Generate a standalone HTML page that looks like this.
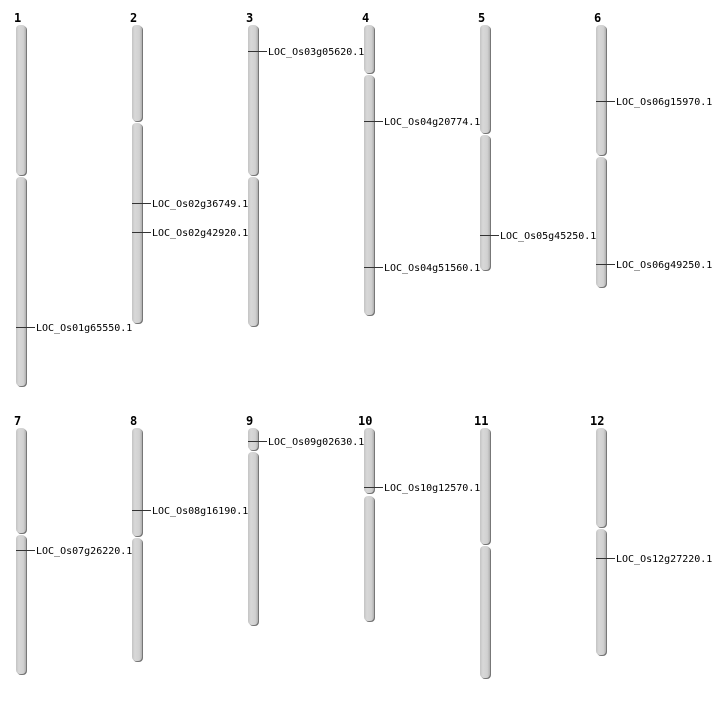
<!DOCTYPE html>
<html><head><style>html,body{margin:0;padding:0;background:#fff;}</style></head>
<body>
<svg width="712" height="700" xmlns="http://www.w3.org/2000/svg" font-family="'DejaVu Sans Mono', monospace">
<defs>
<linearGradient id="g" x1="0" x2="1" y1="0" y2="0">
<stop offset="0" stop-color="#c4c4c4"/><stop offset="0.3" stop-color="#d8d8d8"/><stop offset="0.75" stop-color="#d0d0d0"/><stop offset="1" stop-color="#b0b0b0"/>
</linearGradient>
</defs>
<g font-size="12" font-weight="bold">
<text x="14" y="22">1</text><text x="130" y="22">2</text><text x="246" y="22">3</text><text x="362" y="22">4</text><text x="478" y="22">5</text><text x="594" y="22">6</text>
<text x="14" y="425">7</text><text x="130" y="425">8</text><text x="246" y="425">9</text><text x="358" y="425">10</text><text x="474" y="425">11</text><text x="590" y="425">12</text>
</g>
<g fill="#777">
<rect x="17" y="26" width="10" height="150" rx="4"/><rect x="17" y="178" width="10" height="209" rx="4"/>
<rect x="133" y="26" width="10" height="96" rx="4"/><rect x="133" y="124" width="10" height="200" rx="4"/>
<rect x="249" y="26" width="10" height="150" rx="4"/><rect x="249" y="178" width="10" height="149" rx="4"/>
<rect x="365" y="26" width="10" height="48" rx="4"/><rect x="365" y="76" width="10" height="240" rx="4"/>
<rect x="481" y="26" width="10" height="108" rx="4"/><rect x="481" y="136" width="10" height="135" rx="4"/>
<rect x="597" y="26" width="10" height="130" rx="4"/><rect x="597" y="158" width="10" height="130" rx="4"/>
<rect x="17" y="429" width="10" height="105" rx="4"/><rect x="17" y="536" width="10" height="139" rx="4"/>
<rect x="133" y="429" width="10" height="108" rx="4"/><rect x="133" y="539" width="10" height="123" rx="4"/>
<rect x="249" y="429" width="10" height="22" rx="4"/><rect x="249" y="453" width="10" height="173" rx="4"/>
<rect x="365" y="429" width="10" height="65" rx="4"/><rect x="365" y="497" width="10" height="125" rx="4"/>
<rect x="481" y="429" width="10" height="116" rx="4"/><rect x="481" y="547" width="10" height="132" rx="4"/>
<rect x="597" y="429" width="10" height="99" rx="4"/><rect x="597" y="530" width="10" height="126" rx="4"/>
</g>
<g fill="url(#g)">
<rect x="16" y="25" width="10" height="150" rx="4"/><rect x="16" y="177" width="10" height="209" rx="4"/>
<rect x="132" y="25" width="10" height="96" rx="4"/><rect x="132" y="123" width="10" height="200" rx="4"/>
<rect x="248" y="25" width="10" height="150" rx="4"/><rect x="248" y="177" width="10" height="149" rx="4"/>
<rect x="364" y="25" width="10" height="48" rx="4"/><rect x="364" y="75" width="10" height="240" rx="4"/>
<rect x="480" y="25" width="10" height="108" rx="4"/><rect x="480" y="135" width="10" height="135" rx="4"/>
<rect x="596" y="25" width="10" height="130" rx="4"/><rect x="596" y="157" width="10" height="130" rx="4"/>
<rect x="16" y="428" width="10" height="105" rx="4"/><rect x="16" y="535" width="10" height="139" rx="4"/>
<rect x="132" y="428" width="10" height="108" rx="4"/><rect x="132" y="538" width="10" height="123" rx="4"/>
<rect x="248" y="428" width="10" height="22" rx="4"/><rect x="248" y="452" width="10" height="173" rx="4"/>
<rect x="364" y="428" width="10" height="65" rx="4"/><rect x="364" y="496" width="10" height="125" rx="4"/>
<rect x="480" y="428" width="10" height="116" rx="4"/><rect x="480" y="546" width="10" height="132" rx="4"/>
<rect x="596" y="428" width="10" height="99" rx="4"/><rect x="596" y="529" width="10" height="126" rx="4"/>
</g>
<g stroke="#333" stroke-width="1">
<line x1="16" x2="35" y1="327.5" y2="327.5"/>
<line x1="132" x2="151" y1="203.5" y2="203.5"/><line x1="132" x2="151" y1="232.5" y2="232.5"/>
<line x1="248" x2="267" y1="51.5" y2="51.5"/>
<line x1="364" x2="383" y1="121.5" y2="121.5"/><line x1="364" x2="383" y1="267.5" y2="267.5"/>
<line x1="480" x2="499" y1="235.5" y2="235.5"/>
<line x1="596" x2="615" y1="101.5" y2="101.5"/><line x1="596" x2="615" y1="264.5" y2="264.5"/>
<line x1="16" x2="35" y1="550.5" y2="550.5"/>
<line x1="132" x2="151" y1="510.5" y2="510.5"/>
<line x1="248" x2="267" y1="441.5" y2="441.5"/>
<line x1="364" x2="383" y1="487.5" y2="487.5"/>
<line x1="596" x2="615" y1="558.5" y2="558.5"/>
</g>
<g font-size="10" fill="#000">
<text x="36" y="331">LOC_Os01g65550.1</text>
<text x="152" y="207">LOC_Os02g36749.1</text><text x="152" y="236">LOC_Os02g42920.1</text>
<text x="268" y="55">LOC_Os03g05620.1</text>
<text x="384" y="125">LOC_Os04g20774.1</text><text x="384" y="271">LOC_Os04g51560.1</text>
<text x="500" y="239">LOC_Os05g45250.1</text>
<text x="616" y="105">LOC_Os06g15970.1</text><text x="616" y="268">LOC_Os06g49250.1</text>
<text x="36" y="554">LOC_Os07g26220.1</text>
<text x="152" y="514">LOC_Os08g16190.1</text>
<text x="268" y="445">LOC_Os09g02630.1</text>
<text x="384" y="491">LOC_Os10g12570.1</text>
<text x="616" y="562">LOC_Os12g27220.1</text>
</g>
</svg>
</body></html>
